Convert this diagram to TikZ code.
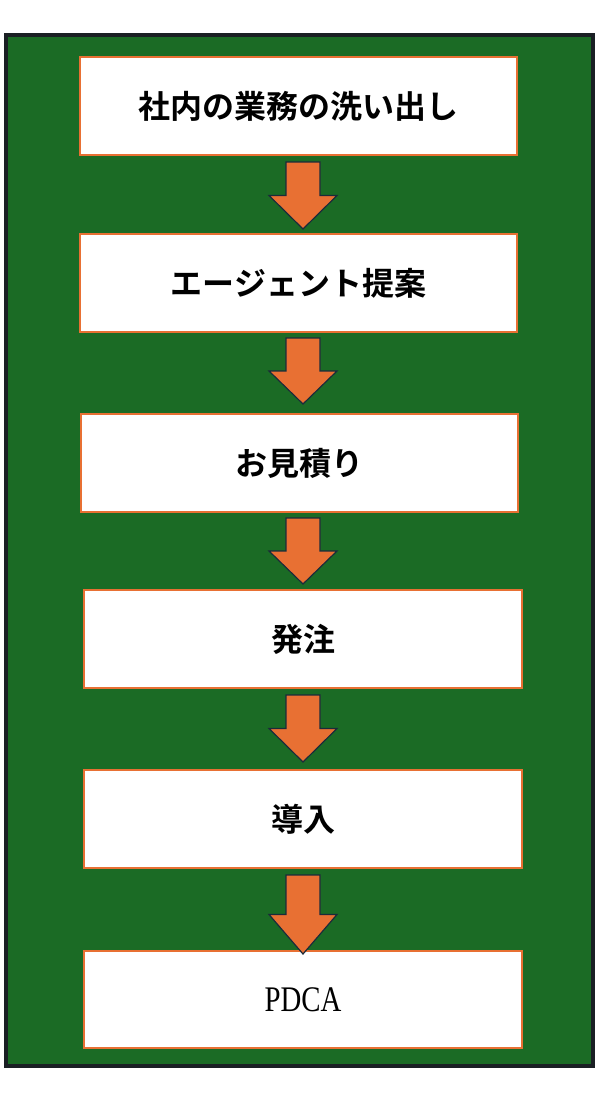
\documentclass[tikz,border=0pt]{standalone}
\usepackage{fontspec}
\newfontfamily\cjk{Noto Sans CJK JP}[BoldFont={Noto Sans CJK JP Bold}]
\setmainfont{Liberation Serif}
\definecolor{bggreen}{HTML}{1B6B25}
\definecolor{frame}{HTML}{1A1F24}
\definecolor{orng}{HTML}{E87033}
\definecolor{arrline}{HTML}{1B2B3A}
\begin{document}
\begin{tikzpicture}[x=1pt,y=-1pt,
  stepbox/.style={draw=orng,line width=1.5pt,fill=white},
  downarrow/.style={fill=orng,draw=arrline,line width=1.2pt,line join=miter},
  lbl/.style={font=\cjk\bfseries\fontsize{32}{36}\selectfont}]
\useasboundingbox (0,0) rectangle (600,1100);
\fill[white] (0,0) rectangle (600,1100);
\draw[fill=bggreen,draw=frame,line width=4pt] (6,35) rectangle (593,1066);
\foreach \n/\xa/\xb/\ya/\yb in {b1/80/517/57/155,b2/80/517/234/332,b3/81/518/414/512,b4/84/522/590/688,b5/84/522/770/868,b6/84/522/951/1048}{
  \draw[stepbox] (\xa,\ya) rectangle (\xb,\yb);
  \coordinate (\n) at ({(\xa+\xb)/2},{(\ya+\yb)/2});
}
\node[lbl] at (b1) {社内の業務の洗い出し};
\node[lbl] at (b2) {エージェント提案};
\node[lbl] at (b3) {お見積り};
\node[lbl] at (b4) {発注};
\node[lbl] at (b5) {導入};
\node[font=\fontsize{36}{40}\selectfont,xscale=0.8] at (b6) {PDCA};
\foreach \ya/\yb in {162/229,338/404,518/584,695/762,875/954}{
  \pgfmathsetmacro{\ym}{\yb-(\yb-\ya)*0.5}
  \draw[downarrow] (286,\ya) -- (320,\ya) -- (320,\ym) -- (337,\ym) -- (303,\yb) -- (269,\ym) -- (286,\ym) -- cycle;
}
\end{tikzpicture}
\end{document}
